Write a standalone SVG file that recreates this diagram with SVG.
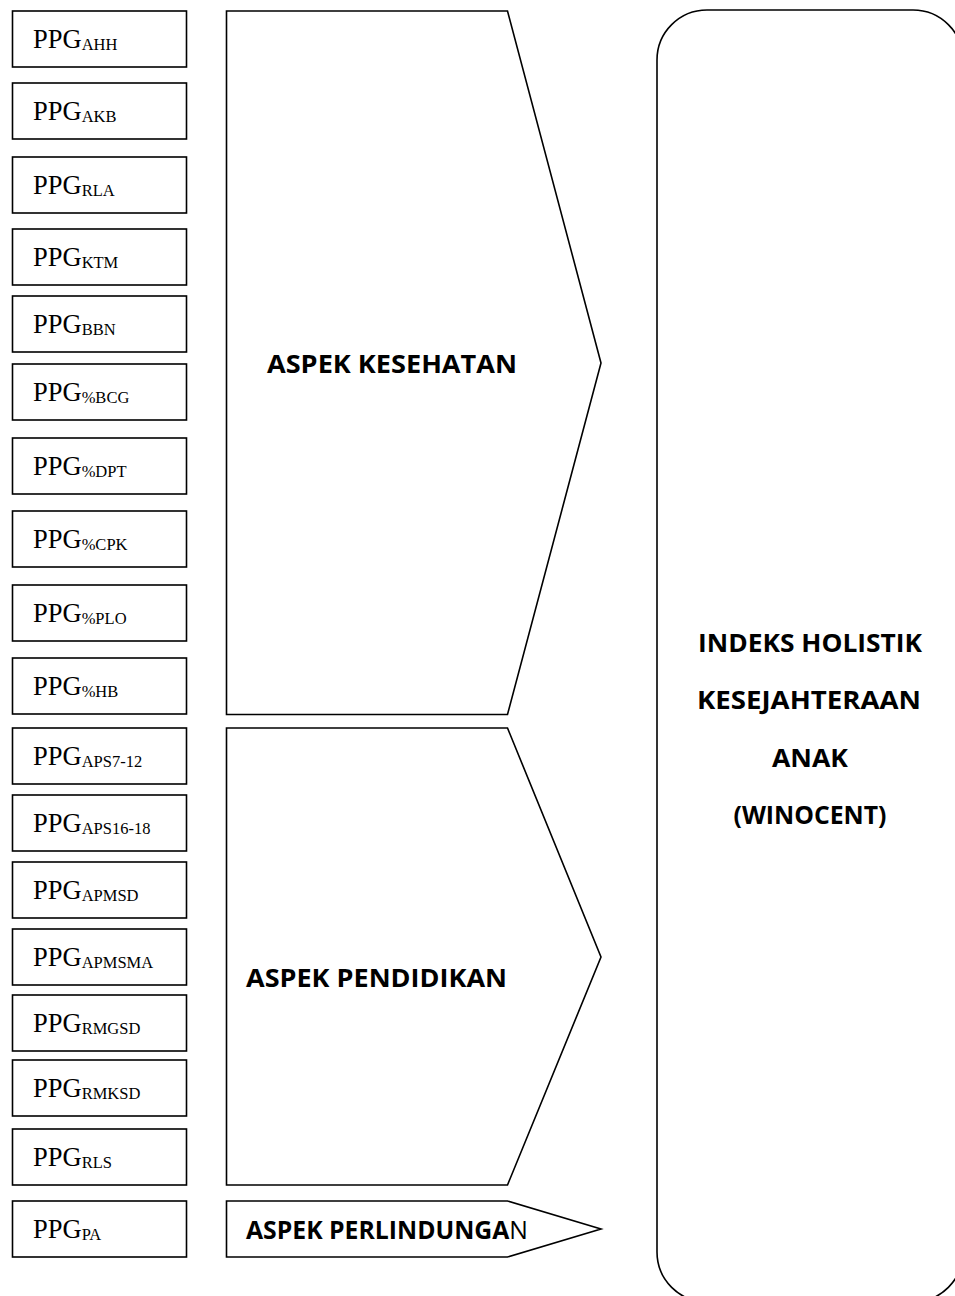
<svg xmlns="http://www.w3.org/2000/svg" width="955" height="1296" viewBox="0 0 955 1296">
<style>
.bg{fill:#ffffff}
.box{fill:#ffffff;stroke:#000000;stroke-width:1.6}
.ppg{font-family:"Liberation Serif","Times New Roman",serif;font-size:26.5px;fill:#000000}
.sub{font-size:16.5px}
.asp{font-family:"Open Sans","Liberation Sans",sans-serif;font-weight:bold;font-size:25px;fill:#000000}
.reg{font-weight:normal}
</style>
<rect class="bg" x="0" y="0" width="955" height="1296"/>
<g id="indicators">
<g id="n-ahh"><rect class="box" x="12.5" y="11" width="174" height="56"/><text class="ppg" x="33" y="47.5">PPG<tspan class="sub" dy="2.5">AHH</tspan></text></g>
<g id="n-akb"><rect class="box" x="12.5" y="83" width="174" height="56"/><text class="ppg" x="33" y="119.5">PPG<tspan class="sub" dy="2.5">AKB</tspan></text></g>
<g id="n-rla"><rect class="box" x="12.5" y="157" width="174" height="56"/><text class="ppg" x="33" y="193.5">PPG<tspan class="sub" dy="2.5">RLA</tspan></text></g>
<g id="n-ktm"><rect class="box" x="12.5" y="229" width="174" height="56"/><text class="ppg" x="33" y="265.5">PPG<tspan class="sub" dy="2.5">KTM</tspan></text></g>
<g id="n-bbn"><rect class="box" x="12.5" y="296" width="174" height="56"/><text class="ppg" x="33" y="332.5">PPG<tspan class="sub" dy="2.5">BBN</tspan></text></g>
<g id="n-bcg"><rect class="box" x="12.5" y="364" width="174" height="56"/><text class="ppg" x="33" y="400.5">PPG<tspan class="sub" dy="2.5">%BCG</tspan></text></g>
<g id="n-dpt"><rect class="box" x="12.5" y="438" width="174" height="56"/><text class="ppg" x="33" y="474.5">PPG<tspan class="sub" dy="2.5">%DPT</tspan></text></g>
<g id="n-cpk"><rect class="box" x="12.5" y="511" width="174" height="56"/><text class="ppg" x="33" y="547.5">PPG<tspan class="sub" dy="2.5">%CPK</tspan></text></g>
<g id="n-plo"><rect class="box" x="12.5" y="585" width="174" height="56"/><text class="ppg" x="33" y="621.5">PPG<tspan class="sub" dy="2.5">%PLO</tspan></text></g>
<g id="n-hb"><rect class="box" x="12.5" y="658" width="174" height="56"/><text class="ppg" x="33" y="694.5">PPG<tspan class="sub" dy="2.5">%HB</tspan></text></g>
<g id="n-aps712"><rect class="box" x="12.5" y="728" width="174" height="56"/><text class="ppg" x="33" y="764.5">PPG<tspan class="sub" dy="2.5">APS7-12</tspan></text></g>
<g id="n-aps1618"><rect class="box" x="12.5" y="795" width="174" height="56"/><text class="ppg" x="33" y="831.5">PPG<tspan class="sub" dy="2.5">APS16-18</tspan></text></g>
<g id="n-apmsd"><rect class="box" x="12.5" y="862" width="174" height="56"/><text class="ppg" x="33" y="898.5">PPG<tspan class="sub" dy="2.5">APMSD</tspan></text></g>
<g id="n-apmsma"><rect class="box" x="12.5" y="929" width="174" height="56"/><text class="ppg" x="33" y="965.5">PPG<tspan class="sub" dy="2.5">APMSMA</tspan></text></g>
<g id="n-rmgsd"><rect class="box" x="12.5" y="995" width="174" height="56"/><text class="ppg" x="33" y="1031.5">PPG<tspan class="sub" dy="2.5">RMGSD</tspan></text></g>
<g id="n-rmksd"><rect class="box" x="12.5" y="1060" width="174" height="56"/><text class="ppg" x="33" y="1096.5">PPG<tspan class="sub" dy="2.5">RMKSD</tspan></text></g>
<g id="n-rls"><rect class="box" x="12.5" y="1129" width="174" height="56"/><text class="ppg" x="33" y="1165.5">PPG<tspan class="sub" dy="2.5">RLS</tspan></text></g>
<g id="n-pa"><rect class="box" x="12.5" y="1201" width="174" height="56"/><text class="ppg" x="33" y="1237.5">PPG<tspan class="sub" dy="2.5">PA</tspan></text></g>
</g>
<g id="aspects">
<g id="n-kesehatan"><path class="box" d="M226.5,11 H507.5 L601,363 L507.5,714.5 H226.5 Z"/><text class="asp" x="267" y="373" textLength="250" lengthAdjust="spacingAndGlyphs">ASPEK KESEHATAN</text></g>
<g id="n-pendidikan"><path class="box" d="M226.5,728 H507.5 L601,957 L507.5,1185 H226.5 Z"/><text class="asp" x="246" y="987" textLength="261" lengthAdjust="spacingAndGlyphs">ASPEK PENDIDIKAN</text></g>
<g id="n-perlindungan"><path class="box" d="M226.5,1201 H507.5 L601,1229 L507.5,1257 H226.5 Z"/><text class="asp" x="246" y="1239" textLength="282" lengthAdjust="spacingAndGlyphs">ASPEK PERLINDUNGA<tspan class="reg">N</tspan></text></g>
</g>
<g id="n-index">
<rect class="box" x="657" y="10" width="306" height="1292" rx="50" ry="50"/>
<text class="asp" x="810" y="652" text-anchor="middle" textLength="224" lengthAdjust="spacingAndGlyphs">INDEKS HOLISTIK</text>
<text class="asp" x="809" y="709" text-anchor="middle" textLength="224" lengthAdjust="spacingAndGlyphs">KESEJAHTERAAN</text>
<text class="asp" x="810" y="767" text-anchor="middle" textLength="76" lengthAdjust="spacingAndGlyphs">ANAK</text>
<text class="asp" x="810" y="824" text-anchor="middle" textLength="153" lengthAdjust="spacingAndGlyphs">(WINOCENT)</text>
</g>
<g id="connectors"/>
</svg>
